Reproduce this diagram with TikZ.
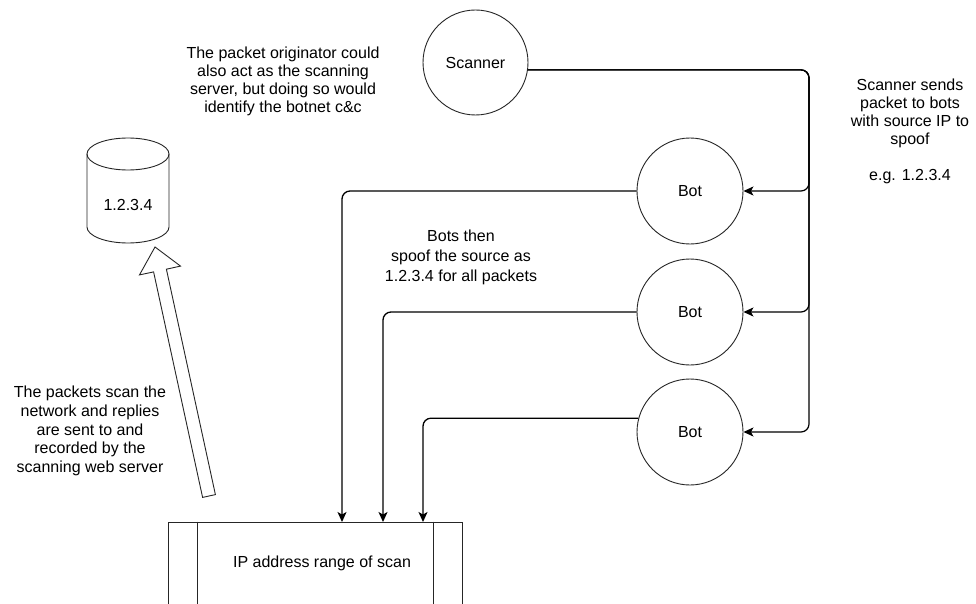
\documentclass[tikz,border=0pt]{standalone}
\usepackage{fontspec}
\setmainfont{Liberation Sans}
\usetikzlibrary{arrows.meta,calc}
\begin{document}
\begin{tikzpicture}[x=1pt,y=-1pt,
  every node/.style={font=\fontsize{16}{18}\selectfont, inner sep=0pt},
  botc/.style={circle, draw=black!85, line width=0.9pt, minimum size=106pt},
  conn/.style={draw=black, line width=1.3pt, rounded corners=8pt, -{Stealth[length=10pt,width=9pt,inset=2.5pt]}},
  txt/.style={align=center},
  shp/.style={draw=black!85, line width=0.9pt}
]
\useasboundingbox (0,0) rectangle (976,604);
\clip (0,0) rectangle (976,604);
\fill[white] (0,0) rectangle (976,604);

% nodes
\node[botc, minimum size=105pt] (scanner) at (475.5,62.5) {Scanner};
\node[botc] (bot1) at (690,191) {Bot};
\node[botc] (bot2) at (690,312) {Bot};
\node[botc] (bot3) at (690,432) {Bot};

\node[shp, rectangle, minimum width=294pt, minimum height=84pt] (box) at (315,564) {};
\draw[shp] ([xshift=30pt]box.north west) -- ([xshift=30pt]box.south west);
\draw[shp] ([xshift=-29pt]box.north east) -- ([xshift=-29pt]box.south east);
\node (boxlabel) at (322,563) {IP address range of scan};

% cylinder
\draw[shp] (87,154) -- (87,227) arc[start angle=180, end angle=360, x radius=41pt, y radius=16pt] -- (169,154);
\draw[shp] (128,154) ellipse [x radius=41pt, y radius=16pt];
\node (db) at (128,205) {1.2.3.4};

% hollow arrow
\coordinate (htip) at (155,247);
\coordinate (hbase) at (209,496);
\draw[shp] (htip) -- (180.5,266.1) -- (166.4,269.2) -- (215.4,494.6) -- (202.6,497.4) -- (153.6,271.9) -- (139.5,274.9) -- cycle;

% texts
\node[txt] (t1) at (283,81) {The packet originator could\\also act as the scanning\\server, but doing so would\\identify the botnet c\&c};
\node[txt] (t2) at (910,131) {Scanner sends\\packet to bots\\with source IP to\\spoof\\[18pt]e.g. 1.2.3.4};
\node[txt, font=\fontsize{16}{20}\selectfont] (t3) at (461,257) {Bots then\\spoof the source as\\1.2.3.4 for all packets};
\node[txt, font=\fontsize{16}{18.7}\selectfont] (t4) at (90,431) {The packets scan the\\network and replies\\are sent to and\\recorded by the\\scanning web server};

% connectors
\coordinate (busx) at (809,0);
\coordinate (in1) at (342,522);
\coordinate (in2) at (383,522);
\coordinate (in3) at (423,522);
\draw[conn, line width=1.2pt] (scanner.-8) -| (busx |- bot1.east) -- (bot1.east);
\draw[conn, line width=1.2pt] (scanner.-8) -| (busx |- bot2.east) -- (bot2.east);
\draw[conn, line width=1.2pt] (scanner.-8) -| (busx |- bot3.east) -- (bot3.east);
\draw[conn] (bot1.west) -| (in1);
\draw[conn] (bot2.west) -| (in2);
\draw[conn] (bot3.165) -| (in3);
\end{tikzpicture}
\end{document}
